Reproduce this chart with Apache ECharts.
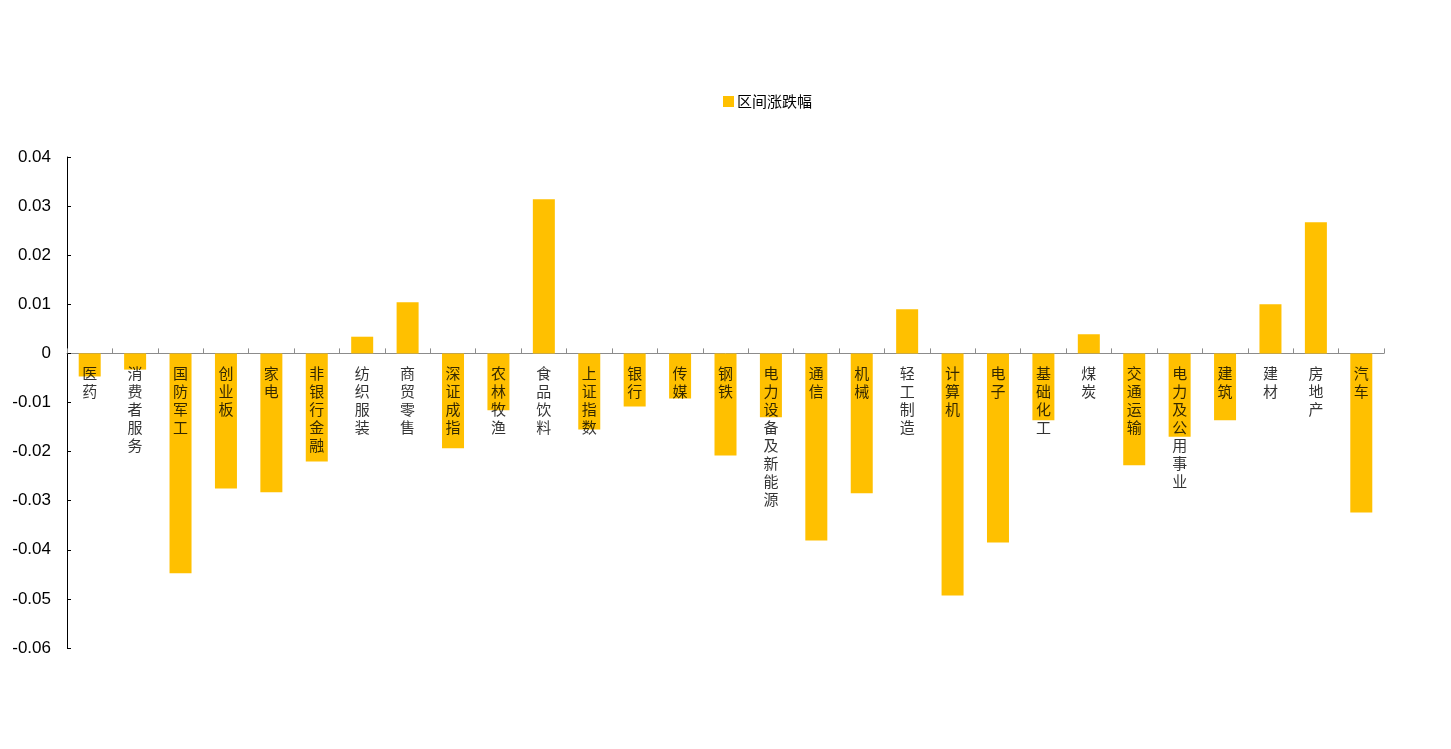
<!DOCTYPE html>
<html>
<head>
<meta charset="utf-8">
<script src="https://cdn.jsdelivr.net/npm/echarts@6/dist/echarts.min.js"></script>
<style>
html,body{margin:0;padding:0;background:#fff;}
#main{width:1451px;height:749px;}
</style>
</head>
<body>
<div id="main"></div>
<script>
const categories = ['医药','消费者服务','国防军工','创业板','家电','非银行金融','纺织服装','商贸零售','深证成指','农林牧渔','食品饮料','上证指数','银行','传媒','钢铁','电力设备及新能源','通信','机械','轻工制造','计算机','电子','基础化工','煤炭','交通运输','电力及公用事业','建筑','建材','房地产','汽车'];
const values = [-0.0047,-0.0033,-0.0448,-0.0275,-0.0283,-0.0220,0.0034,0.0104,-0.0193,-0.0116,0.0314,-0.0155,-0.0108,-0.0092,-0.0208,-0.0130,-0.0381,-0.0285,0.0090,-0.0493,-0.0385,-0.0136,0.0039,-0.0228,-0.0170,-0.0136,0.0100,0.0267,-0.0324];
const seriesName = '区间涨跌幅';
const yTicks = {min: -0.06, max: 0.04, interval: 0.01};

const chart = echarts.init(document.getElementById('main'));
chart.setOption({
  animation: false,
  backgroundColor: '#fff',
  legend: {
    data: [{name: seriesName, icon: 'rect'}],
    top: 89,
    left: 718,
    itemWidth: 11,
    itemHeight: 11,
    itemGap: 4,
    textStyle: {fontSize: 15, color: '#000', fontFamily: 'Noto Sans CJK SC', padding: [0, 0, 0, -2]}
  },
  grid: {left: 67, right: 67, top: 157, bottom: 101, containLabel: false, outerBoundsMode: 'none'},
  xAxis: {
    type: 'category',
    data: categories,
    axisLine: {onZero: true, lineStyle: {color: '#8c8c8c', width: 1}},
    axisTick: {show: true, inside: true, interval: 0, length: 5, lineStyle: {color: '#8c8c8c'}},
    axisLabel: {show: false, interval: 0},
    splitLine: {show: false}
  },
  yAxis: {
    type: 'value',
    min: yTicks.min,
    max: yTicks.max,
    interval: yTicks.interval,
    axisLine: {show: true, lineStyle: {color: '#000', width: 1}},
    axisTick: {show: true, inside: true, length: 4, lineStyle: {color: '#000'}},
    axisLabel: {fontSize: 17, color: '#000', margin: 16, fontFamily: 'Liberation Sans'},
    splitLine: {show: false}
  },
  series: [{
    name: seriesName,
    type: 'bar',
    data: values,
    barWidth: 22,
    itemStyle: {color: '#FFC000'},
    z: 2
  }, {
    name: 'labels',
    type: 'scatter',
    data: categories.map(c => [c, 0]),
    symbolSize: 0,
    silent: true,
    z: 5,
    label: {
      show: true,
      position: 'bottom',
      distance: 11,
      fontSize: 15,
      lineHeight: 18,
      color: '#000',
      fontFamily: 'Noto Sans CJK SC',
      formatter: p => p.data[0].split('').join('\n')
    }
  }]
});
</script>
</body>
</html>
